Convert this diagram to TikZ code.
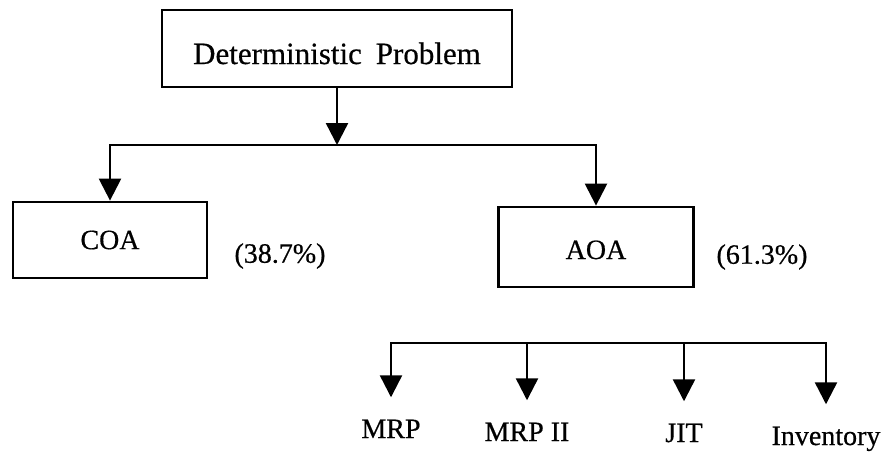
\documentclass[tikz,border=0pt]{standalone}
\usepackage{fontspec}
\setmainfont{Liberation Serif}[FakeBold=0.5]
\usetikzlibrary{arrows.meta}

\tikzset{
box/.style={draw,line width=1.4pt,inner sep=0pt},
conn/.style={line width=1.2pt,-{Triangle[width=11pt,length=11pt]}},
lbl/.style={inner sep=0pt}
}

\begin{document}
\begin{tikzpicture}[x=0.5pt,y=-0.5pt,font={\fontsize{14}{16}\selectfont}]
\useasboundingbox (0,0) rectangle (889,452);

\node[box,minimum width=175pt,minimum height=38.5pt,text height=15.5pt,text depth=0pt,
font={\fontsize{15.5}{18}\selectfont}] (prob) at (337,48.5) {Deterministic\hspace{0.45em}Problem};
\node[box,minimum width=97pt,minimum height=38pt] (coa) at (110,240) {COA};
\node[box,minimum width=97.5pt,minimum height=40pt,text height=12pt,text depth=0pt] (aoa) at (596,247) {AOA};
\node[lbl] (coapct) at (280,256) {(38.7\%)};
\node[lbl] (aoapct) at (762,257) {(61.3\%)};

\coordinate (split) at (337,145);
\draw[conn] (prob) -- (split);
\draw[conn] (split) -| (coa.north);
\draw[conn] (split) -| (aoa.north);

% methods under AOA
\coordinate (bar) at (600,343);
\foreach \name/\txt/\x/\y in {mrp/MRP/391/438,mrpii/MRP II/527/441,jit/JIT/684/442,inv/Inventory/826/445} {
\node[lbl,anchor=base] (\name) at (\x,\y) {\txt};
};

\draw[conn,shorten >=11pt] (bar) -| (mrp.north);
\draw[conn,shorten >=11pt] (bar) -| (inv.north);
\draw[conn,shorten >=11pt] (mrpii.north |- bar) -- (mrpii.north);
\draw[conn,shorten >=11pt] (jit.north |- bar) -- (jit.north);
\end{tikzpicture}
\end{document}
